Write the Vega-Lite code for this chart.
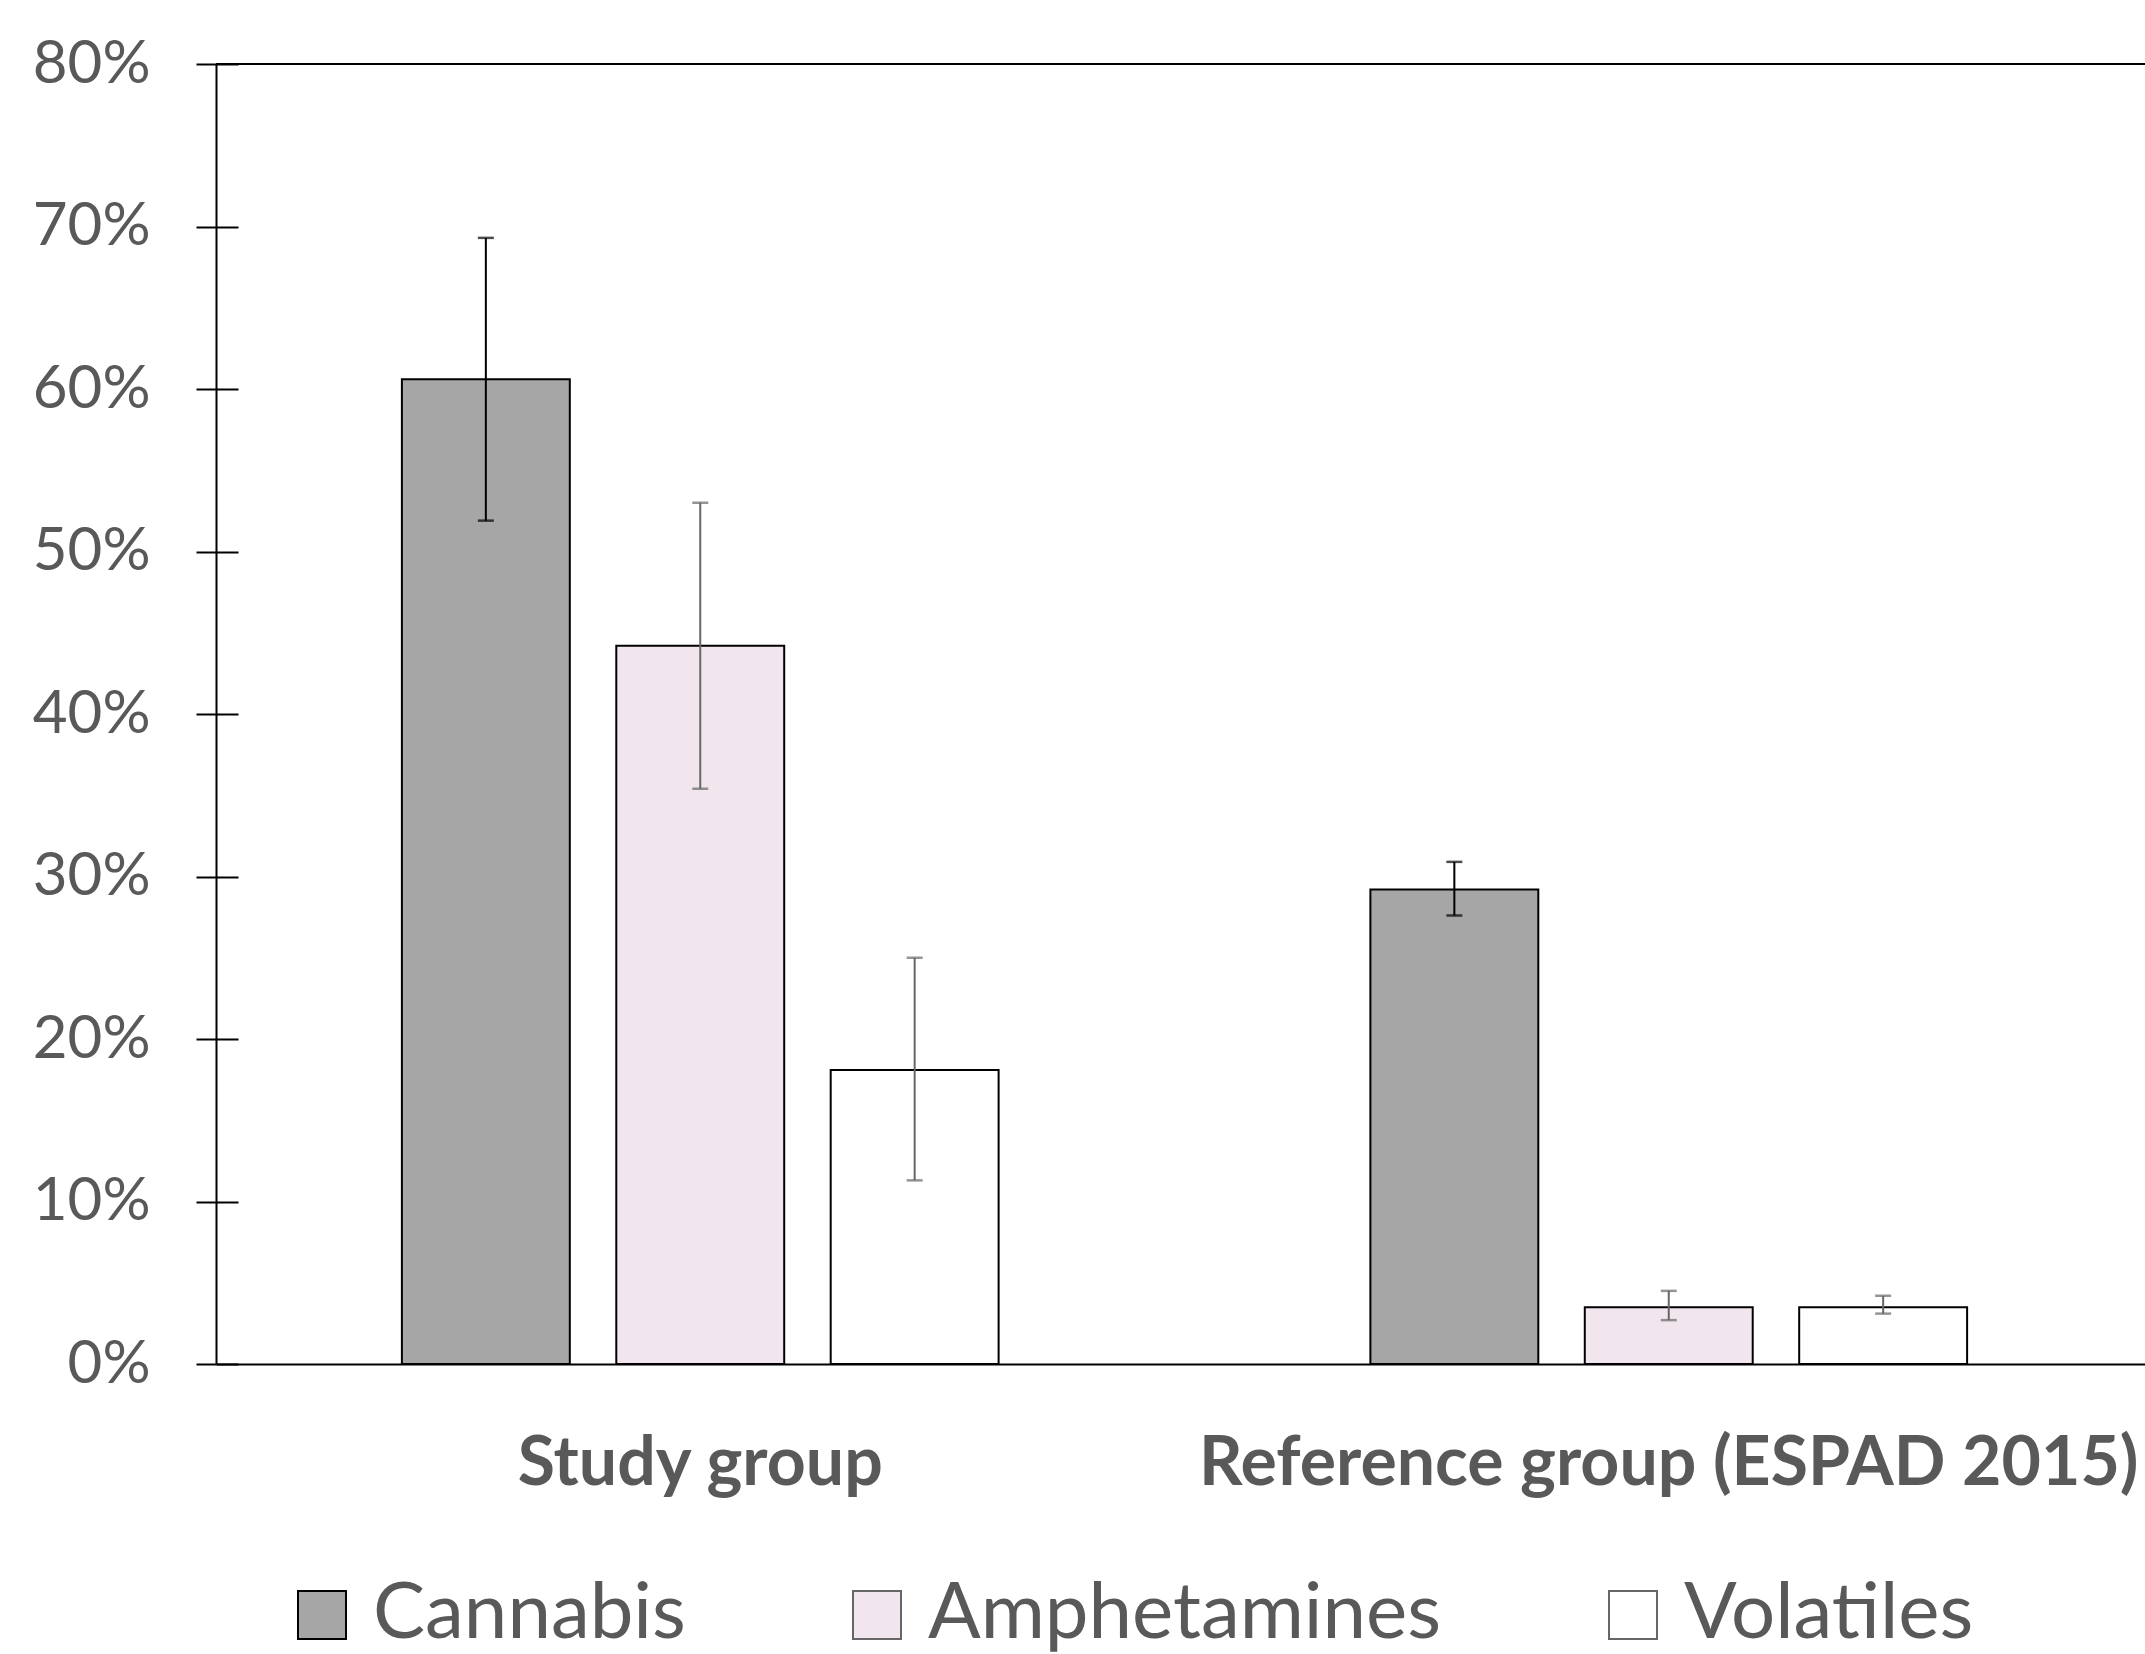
{
  "$schema": "https://vega.github.io/schema/vega-lite/v6.json",
  "description": "Substance use: study group vs reference group (ESPAD 2015)",
  "autosize": {"type": "none"},
  "padding": {"left": 216, "top": 64, "right": 0, "bottom": 290},
  "width": 1929,
  "height": 1300,
  "background": "#ffffff",
  "data": {
    "values": [
      {"group": "Study group", "drug": "Cannabis", "value": 0.606, "lo": 0.519, "hi": 0.693},
      {"group": "Study group", "drug": "Amphetamines", "value": 0.442, "lo": 0.354, "hi": 0.530},
      {"group": "Study group", "drug": "Volatiles", "value": 0.181, "lo": 0.113, "hi": 0.250},
      {"group": "Reference group (ESPAD 2015)", "drug": "Cannabis", "value": 0.292, "lo": 0.276, "hi": 0.309},
      {"group": "Reference group (ESPAD 2015)", "drug": "Amphetamines", "value": 0.035, "lo": 0.027, "hi": 0.045},
      {"group": "Reference group (ESPAD 2015)", "drug": "Volatiles", "value": 0.035, "lo": 0.031, "hi": 0.042}
    ]
  },
  "layer": [
    {
      "mark": {"type": "bar", "stroke": "#000000", "strokeWidth": 2},
      "encoding": {
        "x": {
          "field": "group",
          "type": "nominal",
          "sort": ["Study group", "Reference group (ESPAD 2015)"],
          "scale": {"paddingInner": 0, "paddingOuter": 0, "range": [0, 1937]},
          "axis": {
            "title": null,
            "orient": "bottom",
            "labelAngle": 0,
            "ticks": false,
            "domainColor": "#000000",
            "domainWidth": 2,
            "labelFont": "Lato",
            "labelFontWeight": "bold",
            "labelFontSize": 68,
            "labelColor": "#595959",
            "labelPadding": 66,
            "labelLimit": 0
          }
        },
        "xOffset": {
          "field": "drug",
          "type": "nominal",
          "sort": ["Cannabis", "Amphetamines", "Volatiles"],
          "scale": {"paddingInner": 0.2168, "paddingOuter": 0.867}
        },
        "y": {
          "field": "value",
          "type": "quantitative",
          "scale": {"domain": [0, 0.8], "nice": false},
          "axis": {
            "title": null,
            "orient": "left",
            "format": ".0%",
            "values": [0, 0.1, 0.2, 0.3, 0.4, 0.5, 0.6, 0.7, 0.8],
            "grid": true,
            "gridColor": "#000000",
            "gridWidth": 2,
            "gridDash": [22, 5000],
            "tickSize": 20,
            "tickColor": "#000000",
            "tickWidth": 2,
            "domainColor": "#000000",
            "domainWidth": 2,
            "labelFont": "Lato",
            "labelFontSize": 60,
            "labelColor": "#595959",
            "labelPadding": 46
          }
        },
        "fill": {
          "field": "drug",
          "type": "nominal",
          "sort": ["Cannabis", "Amphetamines", "Volatiles"],
          "scale": {
            "domain": ["Cannabis", "Amphetamines", "Volatiles"],
            "range": ["#a6a6a6", "#f2e6ee", "#ffffff"]
          },
          "legend": {
            "title": null,
            "orient": "none",
            "direction": "horizontal",
            "legendX": 67,
            "legendY": 1512,
            "symbolType": "square",
            "symbolSize": 2304,
            "symbolStrokeColor": "#000000",
            "symbolStrokeWidth": 2,
            "labelFont": "Lato",
            "labelFontSize": 78,
            "labelColor": "#595959",
            "labelOffset": 12,
            "labelLimit": 0,
            "columnPadding": 152
          }
        }
      }
    },
    {
      "mark": {"type": "rule", "strokeWidth": 2},
      "encoding": {
        "x": {"field": "group", "type": "nominal", "sort": ["Study group", "Reference group (ESPAD 2015)"]},
        "xOffset": {"field": "drug", "type": "nominal", "sort": ["Cannabis", "Amphetamines", "Volatiles"]},
        "y": {"field": "lo", "type": "quantitative"},
        "y2": {"field": "hi"},
        "color": {
          "field": "drug",
          "type": "nominal",
          "scale": {
            "domain": ["Cannabis", "Amphetamines", "Volatiles"],
            "range": ["#000000", "#666666", "#666666"]
          },
          "legend": null
        }
      }
    },
    {
      "mark": {"type": "tick", "size": 16, "thickness": 2.5},
      "encoding": {
        "x": {"field": "group", "type": "nominal", "sort": ["Study group", "Reference group (ESPAD 2015)"]},
        "xOffset": {"field": "drug", "type": "nominal", "sort": ["Cannabis", "Amphetamines", "Volatiles"]},
        "y": {"field": "lo", "type": "quantitative"},
        "color": {"field": "drug", "type": "nominal", "legend": null}
      }
    },
    {
      "mark": {"type": "tick", "size": 16, "thickness": 2.5},
      "encoding": {
        "x": {"field": "group", "type": "nominal", "sort": ["Study group", "Reference group (ESPAD 2015)"]},
        "xOffset": {"field": "drug", "type": "nominal", "sort": ["Cannabis", "Amphetamines", "Volatiles"]},
        "y": {"field": "hi", "type": "quantitative"},
        "color": {"field": "drug", "type": "nominal", "legend": null}
      }
    },
    {
      "mark": {"type": "rule", "color": "#000000", "strokeWidth": 2},
      "encoding": {
        "y": {"datum": 0.8, "type": "quantitative"}
      }
    }
  ],
  "config": {
    "view": {"stroke": null},
    "font": "Lato"
  }
}
